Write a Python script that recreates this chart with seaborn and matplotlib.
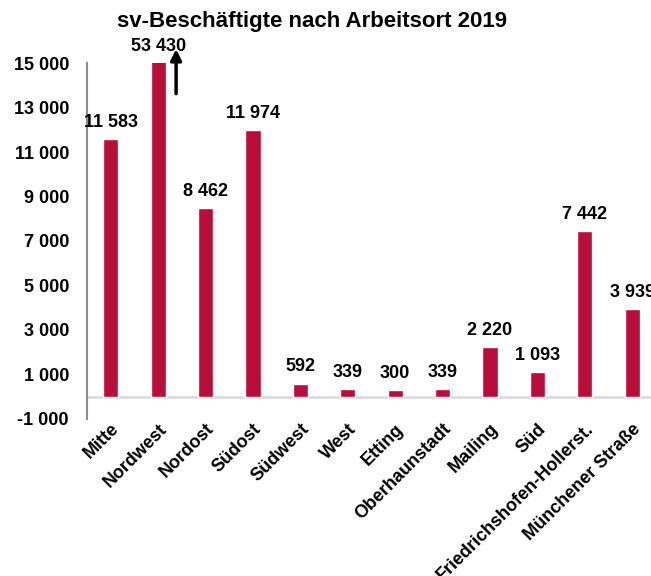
import matplotlib.pyplot as plt
import seaborn as sns

districts = ["Mitte", "Nordwest", "Nordost", "Südost", "Südwest", "West", "Etting",
             "Oberhaunstadt", "Mailing", "Süd", "Friedrichshofen-Hollerst.", "Münchener Straße"]
employees = [11583, 53430, 8462, 11974, 592, 339, 300, 339, 2220, 1093, 7442, 3939]
y_ticks = [-1000, 1000, 3000, 5000, 7000, 9000, 11000, 13000, 15000]

BAR = "#BA0E3A"
Y_MAX = 15000


def fmt(v):
    return f"{v:,}".replace(",", " ")


sns.set_style("white")
plt.rcParams["font.family"] = ["Liberation Sans", "DejaVu Sans"]
plt.rcParams["font.weight"] = "bold"
plt.rcParams["text.color"] = "black"
plt.rcParams["xtick.color"] = "black"
plt.rcParams["ytick.color"] = "black"

fig = plt.figure(figsize=(6.51, 5.76), dpi=100)
ax = fig.add_axes([0.1336, 0.2726, 0.874, 0.618])

sns.barplot(x=districts, y=employees, color=BAR, saturation=1, width=0.32, ax=ax)

ax.set_ylim(-1000, Y_MAX)
ax.set_xlim(-0.5, len(districts) - 0.5)
ax.set_yticks(y_ticks)
ax.set_yticklabels([fmt(t) for t in y_ticks], fontsize=13, fontweight="bold")
ax.set_xticks(range(len(districts)))
ax.set_xticklabels(districts, rotation=45, ha="right", rotation_mode="anchor",
                   fontsize=13, fontweight="bold")
ax.tick_params(axis="x", length=0, pad=1, labelcolor="black")
ax.tick_params(axis="y", length=6, width=1.5, color="#8C8C8C", direction="out", pad=7,
               labelcolor="black")
ax.set_xlabel("")
ax.set_ylabel("")

for side in ["top", "right", "bottom"]:
    ax.spines[side].set_visible(False)
ax.spines["left"].set_color("#8C8C8C")
ax.spines["left"].set_linewidth(1.5)
ax.axhline(0, color="#D9D9D9", linewidth=1.8, zorder=0, clip_on=False)

for i, v in enumerate(employees):
    ax.annotate(fmt(v), (i, min(v, Y_MAX)), xytext=(0, 6), textcoords="offset points",
                ha="center", va="bottom", fontsize=13, fontweight="bold",
                color="black", annotation_clip=False)

# arrow marking the truncated Nordwest bar
ax.annotate("", xy=(1.38, 15750), xytext=(1.38, 13500),
            arrowprops=dict(arrowstyle="-|>", color="black", lw=2.5, mutation_scale=16),
            annotation_clip=False)

fig.text(0.479, 1 - 22 / 576, "sv-Beschäftigte nach Arbeitsort 2019",
         ha="center", va="center", fontsize=16, fontweight="bold", color="black")

fig.savefig("out.png", dpi=100)
plt.close(fig)
